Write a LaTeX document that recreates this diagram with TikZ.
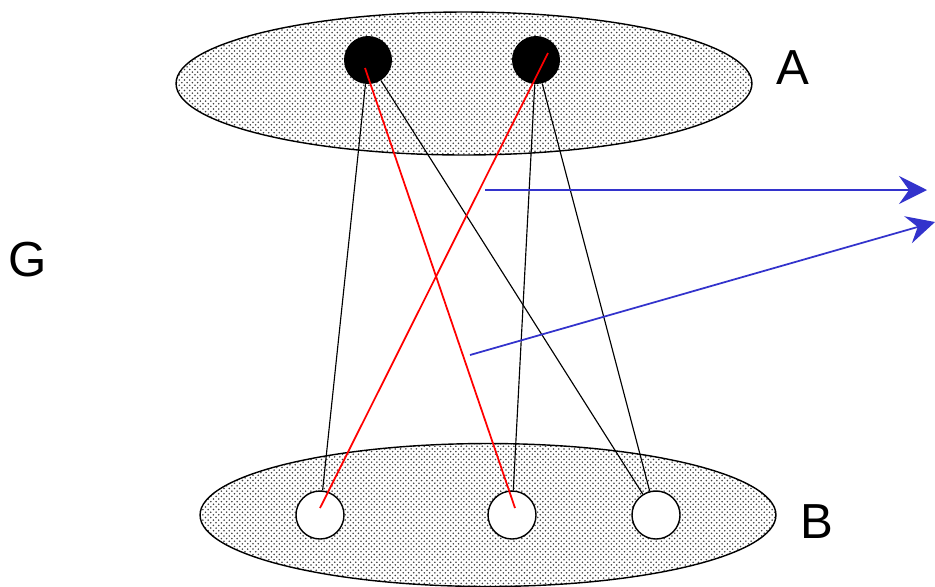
\documentclass[tikz,border=0pt]{standalone}
\usepackage{fontspec}
\setmainfont{Liberation Sans}
\usepackage{xcolor}
\usepackage{tikz}
\usetikzlibrary{positioning, shapes.geometric, arrows.meta, patterns}
\definecolor{arrowblue}{rgb}{0.2,0.2,0.8}

\begin{document}
\begin{tikzpicture}[x=0.02cm, y=-0.02cm,
  every node/.style={font=\fontsize{28}{32}\selectfont},
  setshape/.style={ellipse, draw=black, line width=0.8pt, pattern=crosshatch dots, pattern color=black!75,
    minimum width=11.52cm, minimum height=2.86cm, inner sep=0pt},
  fullvertex/.style={circle, fill=black, minimum size=0.96cm, inner sep=0pt},
  emptyvertex/.style={circle, draw=black, line width=0.8pt, fill=white, minimum size=0.96cm, inner sep=0pt},
  edge/.style={black, line width=0.65pt},
  matched/.style={red, line width=1pt},
  mapping/.style={arrowblue, line width=1pt, -{Stealth[length=0.56cm, width=0.56cm, inset=0.2cm]}}]
\useasboundingbox (0,0) rectangle (935,586);

% The two sets of the bipartite graph
\node[setshape] (setA) at (464,83.5) {};
\node[setshape] (setB) at (488,515) {};

% Vertices of A (filled) and of B (open)
\node[fullvertex] (a1) at (368,60) {};
\node[fullvertex] (a2) at (536,60) {};
\node[emptyvertex] (b1) at (320,515) {};
\node[emptyvertex] (b2) at (512,515) {};
\node[emptyvertex] (b3) at (656,515) {};

% Labels
\node (labA) at (793,68) {A};
\node (labB) at (817,522) {B};
\node (labG) at (28,260) {G};

% Plain edges
\draw[edge] (a1) -- (b1);
\draw[edge] (a1) -- (b3);
\draw[edge] (a2) -- (b2);
\draw[edge] (a2) -- (b3);

% Matching edges (drawn centre to centre)
\coordinate (a1m) at (365,68);
\coordinate (a2m) at (548,53);
\coordinate (b1m) at (320,508);
\coordinate (b2m) at (515,508);
\draw[matched] (a1m) -- (b2m);
\draw[matched] (a2m) -- (b1m);

% Outgoing arrows
\coordinate (m1s) at (485,190);
\coordinate (m1e) at (927,190);
\coordinate (m2s) at (470,355);
\coordinate (m2e) at (935,222);
\draw[mapping] (m1s) -- (m1e);
\draw[mapping] (m2s) -- (m2e);
\end{tikzpicture}
\end{document}
